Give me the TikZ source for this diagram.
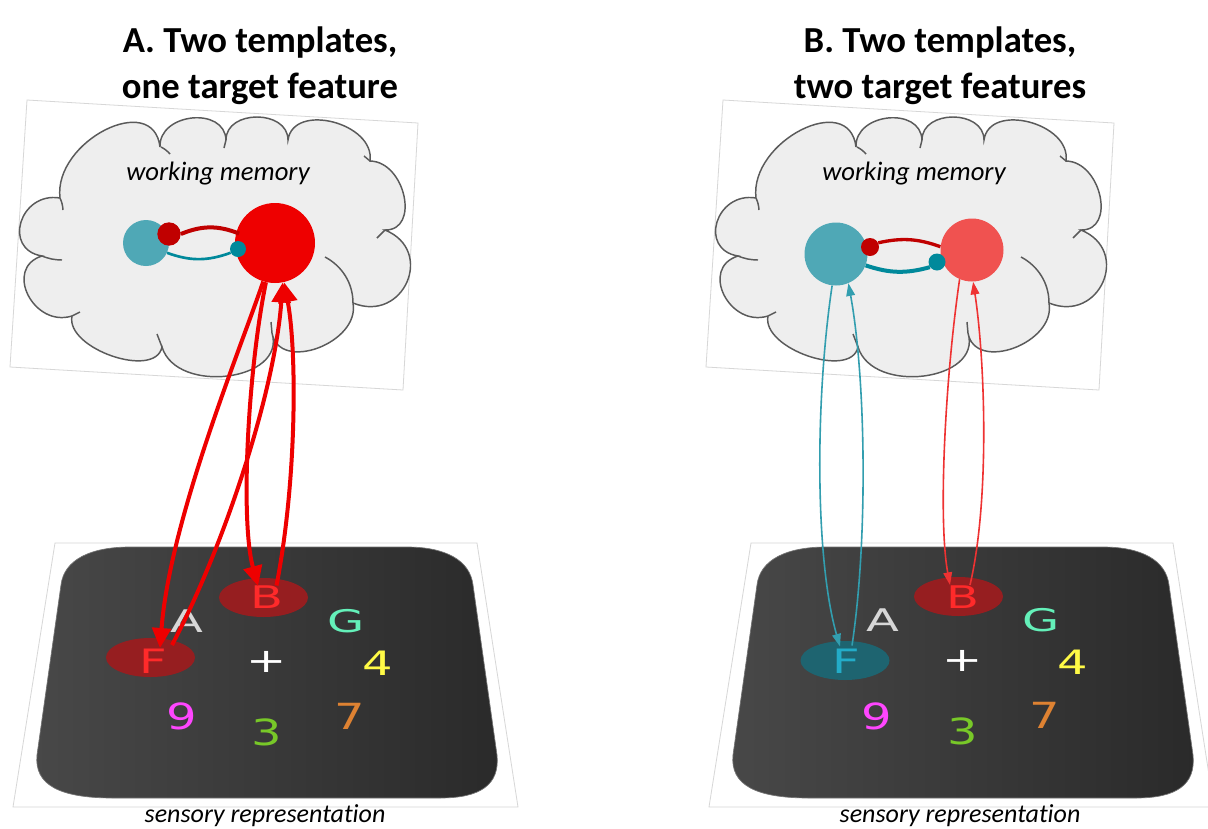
\documentclass[tikz,border=0pt]{standalone}
\usepackage{fontspec}
\setmainfont{Carlito}[Ligatures=NoCommon]
\newfontfamily\dvsans{DejaVu Sans}
\usetikzlibrary{arrows.meta,calc,shapes.geometric}

\definecolor{cTeal}{RGB}{79,168,182}
\definecolor{cRed}{RGB}{238,0,0}
\definecolor{cLRed}{RGB}{240,82,80}
\definecolor{cDotRed}{RGB}{192,0,0}
\definecolor{cDotTeal}{RGB}{0,137,155}
\definecolor{cCloud}{RGB}{238,238,238}
\definecolor{cCloudLine}{RGB}{90,90,90}
\definecolor{cFrame}{RGB}{215,215,215}
\definecolor{cEllRed}{RGB}{150,30,32}
\definecolor{cEllTeal}{RGB}{30,100,112}
\definecolor{cLtrRed}{RGB}{255,42,42}
\definecolor{cLtrCyan}{RGB}{35,172,200}
\definecolor{cLtrA}{RGB}{215,215,215}
\definecolor{cLtrG}{RGB}{100,240,185}
\definecolor{cLtrFour}{RGB}{255,250,70}
\definecolor{cLtrNine}{RGB}{255,70,255}
\definecolor{cLtrThree}{RGB}{120,200,40}
\definecolor{cLtrSeven}{RGB}{222,130,50}
\definecolor{cScrL}{RGB}{72,72,72}
\definecolor{cScrR}{RGB}{42,42,42}
\definecolor{cThinTeal}{RGB}{50,158,175}
\definecolor{cThinRed}{RGB}{238,50,50}

\newcommand\cpf[3]{.. controls ($0.3333*(#1)+1.3333*(#2)-0.6667*(#3)$) and ($0.3333*(#3)+1.3333*(#2)-0.6667*(#1)$) .. (#3)}

\newcommand\wmcloud{%
 \draw[frame] (27,100) -- (418,123) -- (403,390) -- (10,367) -- cycle;
 \path[cloudshape] (60,198) \cpf{60,198}{105,130}{160,147} \cpf{160,147}{192,118}{226,140}
   \cpf{226,140}{257,117}{288,140} \cpf{288,140}{333,122}{370,161} \cpf{370,161}{404,196}{385,230}
   \cpf{385,230}{407,282}{353,303} \cpf{353,303}{318,348}{272,333} \cpf{272,333}{228,376}{162,347}
   \cpf{162,347}{112,356}{72,316} \cpf{72,316}{28,295}{42,256} \cpf{42,256}{21,222}{60,198} -- cycle;
 \draw[cloudstub] (60,198) to[bend left=10] (63,210);
 \draw[cloudstub] (161,147) to[bend left=10] (170,154);
 \draw[cloudstub] (226,140) -- (224,148);
 \draw[cloudstub] (370,161) -- (364,156);
 \draw[cloudstub] (385,230) -- (377,238);
 \draw[cloudstub] (325,257) .. controls (342,266) and (353,283) .. (353,303);
 \draw[cloudstub] (272,333) -- (271,322);
 \draw[cloudstub] (162,347) -- (157,334);
 \draw[cloudstub] (72,316) -- (80,312);
 \draw[cloudstub] (42,256) to[bend right=10] (62,260);
}

\newcommand\sensorybase{%
 \draw[frame] (55,543) -- (477,543) -- (518,807) -- (13,807) -- cycle;
 \path[screen] (130,547) -- (407,547) .. controls (445,547) and (470,560) .. (473,585)
   -- (497,755) .. controls (500,785) and (480,798) .. (440,798) -- (113,798)
   .. controls (60,798) and (34,785) .. (37,755) -- (61,585)
   .. controls (64,560) and (90,547) .. (130,547) -- cycle;
}

\begin{document}
\begin{tikzpicture}[x=0.75pt,y=-0.75pt,
  frame/.style={draw=cFrame, line width=0.6pt},
  cloudshape/.style={fill=cCloud, draw=cCloudLine, line width=1.1pt},
  cloudstub/.style={draw=cCloudLine, line width=1.1pt},
  screen/.style={left color=cScrL, right color=cScrR, draw=black!55, line width=0.5pt},
  title/.style={font=\bfseries\fontsize{27.5pt}{34.5pt}\selectfont, align=center, inner sep=0pt},
  wmlabel/.style={font=\itshape\fontsize{20pt}{24pt}\selectfont, anchor=base, inner sep=0pt},
  srlabel/.style={font=\itshape\fontsize{19.5pt}{24pt}\selectfont, anchor=base, inner sep=0pt},
  disc/.style={circle, inner sep=0pt},
  ell/.style={ellipse, minimum width=66.75pt, minimum height=29.25pt, inner sep=0pt},
  ltr/.style={font=\dvsans\fontsize{36pt}{36pt}\selectfont, inner sep=0pt},
  thickarr/.style={draw=cRed, line width=3pt, -{Triangle[length=15pt,width=14pt]}},
  thinteal/.style={draw=cThinTeal, line width=1.2pt, -{Triangle[length=9.5pt,width=6.5pt]}},
  thinred/.style={draw=cThinRed, line width=1.2pt, -{Triangle[length=9.5pt,width=6.5pt]}}
]
\fill[white] (0,0) rectangle (1208,829);
\useasboundingbox (0,0) rectangle (1208,829);

% titles
\node[title] (tA) at (260,66) {A. Two templates,\\one target feature};
\node[title] (tB) at (940,66) {B. Two templates,\\two target features};

% ---------- working memory clouds
\wmcloud
\begin{scope}[shift={(696,0)}]
\wmcloud
\end{scope}
\node[wmlabel] (wmA) at (218,180) {working memory};
\node[wmlabel] (wmB) at (914,180) {working memory};

% panel A memory
\node[disc, fill=cTeal, minimum size=34.5pt] (tealA) at (146,243) {};
\node[disc, fill=cRed, minimum size=60pt] (redA) at (275,243) {};
\node[disc, fill=cDotRed, minimum size=17.5pt] (dotA) at (169,234) {};
\node[disc, fill=cDotTeal, minimum size=12pt] (tdotA) at (238,249) {};
\draw[cDotRed, line width=3pt] (dotA.east) to[bend left=22] ($(redA.165)+(3,1)$);
\draw[cDotTeal, line width=2pt] (tealA.-25) to[bend right=20] (tdotA.-153);

% panel B memory
\node[disc, fill=cTeal, minimum size=47.25pt] (tealB) at (836,254) {};
\node[disc, fill=cLRed, minimum size=47.25pt] (redB) at (972,250) {};
\node[disc, fill=cDotRed, minimum size=13.5pt] (dotB) at (870,247) {};
\node[disc, fill=cDotTeal, minimum size=12.75pt] (tdotB) at (937,262) {};
\draw[cDotRed, line width=2.5pt] (dotB.27) to[bend left=16] (redB.174);
\draw[cDotTeal, line width=3pt] (tealB.-21) to[bend right=17] (tdotB.-144);

% ---------- sensory representations
\sensorybase
\begin{scope}[shift={(696,0)}]
\sensorybase
\end{scope}

% panel A screen
\node[ell, fill=cEllRed] (BA) at (263.5,597.5) {};
\node[ell, fill=cEllRed] (FA) at (150.5,657.5) {};
\node[ltr, text=cLtrA, yscale=.65] (lAa) at (187,621) {A};
\node[ltr, text=cLtrRed, yscale=.65] (lBa) at (267,597) {B};
\node[ltr, text=cLtrG, yscale=.65] (lGa) at (346,621) {G};
\node[ltr, text=cLtrRed, yscale=.7] (lFa) at (153,661) {F};
\node[ltr, text=white, yscale=.7] (lPa) at (267,662) {+};
\node[ltr, text=cLtrFour, yscale=.7] (l4a) at (378,663) {4};
\node[ltr, text=cLtrNine, yscale=.75] (l9a) at (182,716) {9};
\node[ltr, text=cLtrThree, yscale=.75] (l3a) at (267,732) {3};
\node[ltr, text=cLtrSeven, yscale=.75] (l7a) at (350,716) {7};
\node[srlabel] (srA) at (265,822) {sensory representation};

% panel B screen
\node[ell, fill=cEllRed] (BB) at (958.5,596.5) {};
\node[ell, fill=cEllTeal] (FB) at (845,660.5) {};
\node[ltr, text=cLtrA, yscale=.65] (lAb) at (883,620) {A};
\node[ltr, text=cLtrRed, yscale=.65] (lBb) at (963,597) {B};
\node[ltr, text=cLtrG, yscale=.65] (lGb) at (1041,620) {G};
\node[ltr, text=cLtrCyan, yscale=.7] (lFb) at (846,661) {F};
\node[ltr, text=white, yscale=.7] (lPb) at (963,661) {+};
\node[ltr, text=cLtrFour, yscale=.7] (l4b) at (1073,662) {4};
\node[ltr, text=cLtrNine, yscale=.75] (l9b) at (877,716) {9};
\node[ltr, text=cLtrThree, yscale=.75] (l3b) at (963,731) {3};
\node[ltr, text=cLtrSeven, yscale=.75] (l7b) at (1045,715) {7};
\node[srlabel] (srB) at (960,822) {sensory representation};

% ---------- connectors panel A
\draw[thickarr] (redA.-107) .. controls (240,350) and (170,520) .. ($(FA.center)+(9.5,-9.5)$);
\draw[thickarr] (redA.-103) .. controls (248,370) and (240,520) .. ($(BA.center)+(-5.5,-11.5)$);
\draw[thickarr] ($(FA.center)+(21.5,-12.5)$) .. controls (225,545) and (275,390) .. (redA.-79);
\draw[thickarr] ($(BA.center)+(13,-12)$) .. controls (297,480) and (297,350) .. (redA.-77);

% ---------- connectors panel B
\draw[thinteal] (tealB.-97) .. controls (815,400) and (815,560) .. ($(FB.center)+(-5,-14)$);
\draw[thinteal] ($(FB.center)+(7,-15)$) .. controls (868,540) and (866,380) .. (tealB.-67);
\draw[thinred] (redB.-113) .. controls (945,380) and (938,520) .. ($(BB.center)+(-8.5,-11.5)$);
\draw[thinred] ($(BB.center)+(11.5,-11.5)$) .. controls (990,500) and (985,360) .. (redB.-88);
\end{tikzpicture}
\end{document}
